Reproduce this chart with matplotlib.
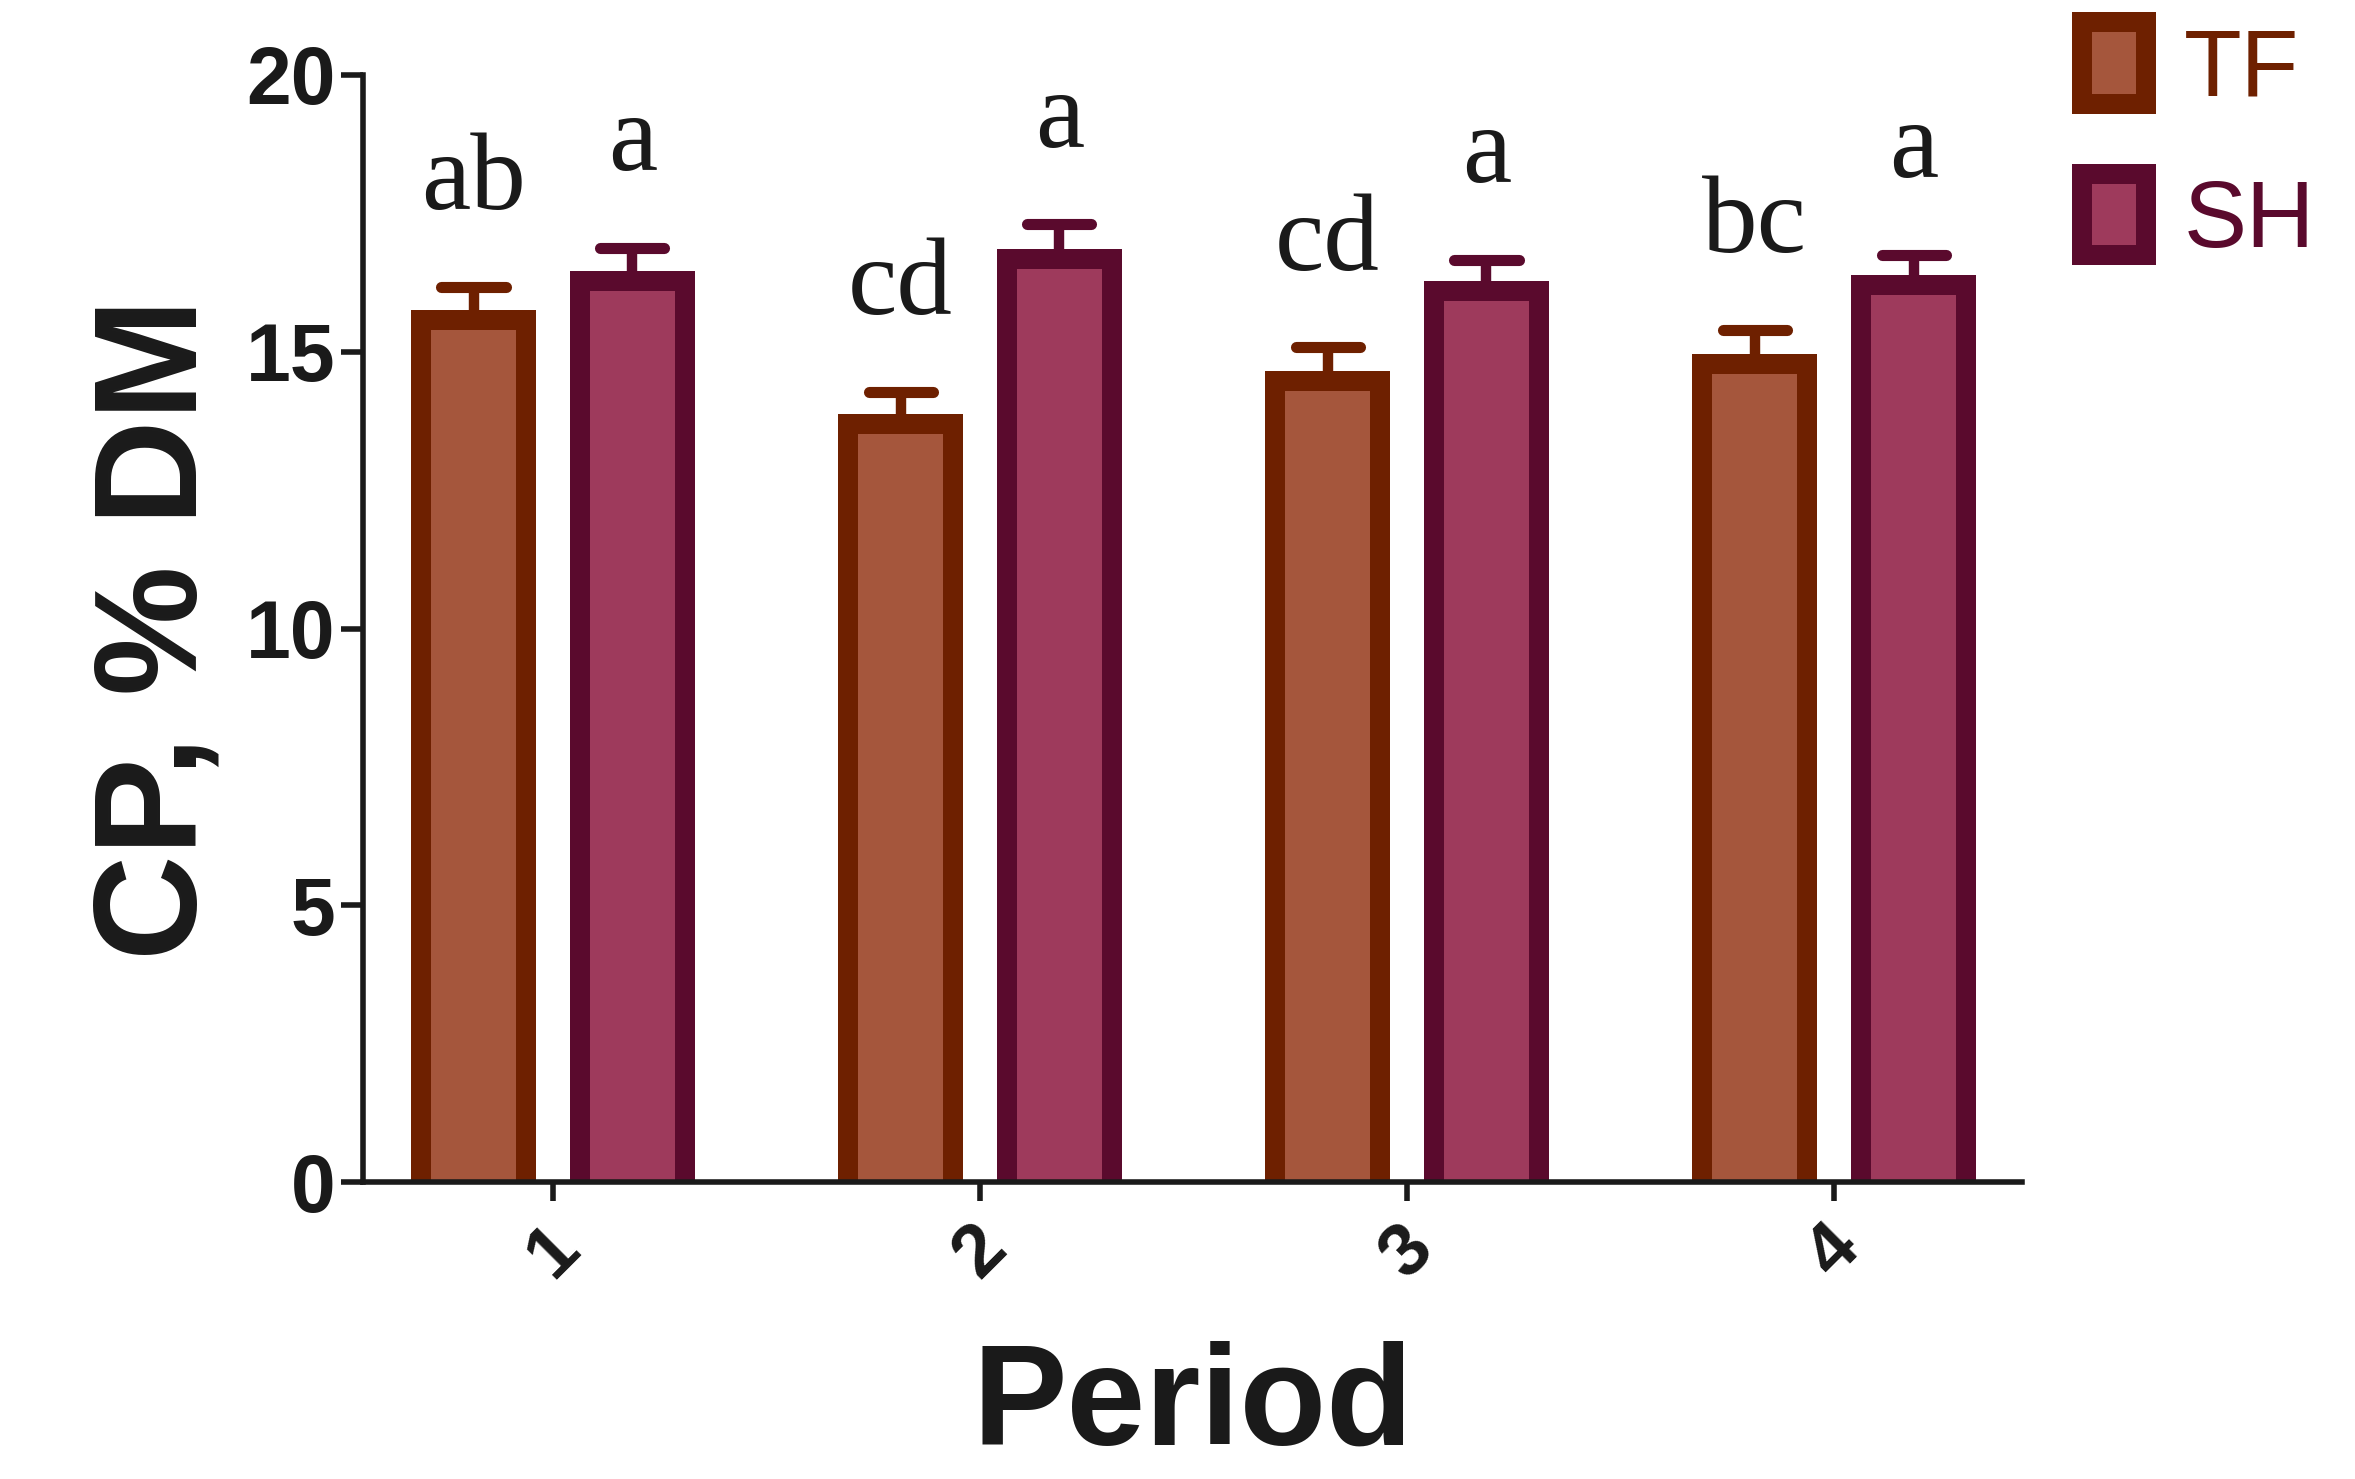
import numpy as np
import matplotlib
matplotlib.use("Agg")
import matplotlib.pyplot as plt

# data
periods = ["1", "2", "3", "4"]
tf_mean = [15.57, 13.70, 14.48, 14.78]
tf_err = [0.60, 0.57, 0.60, 0.62]
sh_mean = [16.28, 16.68, 16.09, 16.20]
sh_err = [0.60, 0.62, 0.57, 0.55]
tf_letters = ["ab", "cd", "cd", "bc"]
sh_letters = ["a", "a", "a", "a"]

TF_FILL, TF_EDGE = "#A5563C", "#6E2000"
SH_FILL, SH_EDGE = "#9E3A5C", "#5A0A2D"
INK = "#1a1a1a"

fig = plt.figure(figsize=(23.55, 14.79), dpi=100)
ax = fig.add_axes([0.1541, 0.2008, 0.8586 - 0.1541, 0.9493 - 0.2008])

x = np.arange(1, len(periods) + 1)
off = 0.186
width = 0.246
cap_half = 0.075
base = -0.3  # start bars below the axis so the bottom edge is clipped away

handles = []
for xs, mean, err, fill, edge, letters in [
    (x - off, tf_mean, tf_err, TF_FILL, TF_EDGE, tf_letters),
    (x + off, sh_mean, sh_err, SH_FILL, SH_EDGE, sh_letters),
]:
    mean = np.array(mean)
    err = np.array(err)
    bars = ax.bar(xs, mean - base, width, bottom=base, color=fill, edgecolor=edge,
                  linewidth=14.4, zorder=3)
    handles.append(bars)
    ax.vlines(xs, mean, mean + err, color=edge, linewidth=7.5, zorder=2)
    caps = ax.hlines(mean + err, xs - cap_half, xs + cap_half, color=edge,
                     linewidth=8, zorder=2)
    caps.set_capstyle("round")
    for xi, top, lab in zip(xs, mean + err, letters):
        ax.annotate(lab, (xi, top), xytext=(0, 56), textcoords="offset points",
                    ha="center", va="baseline", fontsize=80,
                    family="Liberation Serif", color=INK)

ax.set_xlim(0.555, 4.44)
ax.set_ylim(0, 20)
ax.set_yticks([0, 5, 10, 15, 20])
ax.set_xticks(x)
ax.set_xticklabels(periods, rotation=45, ha="center", va="top")

for s in ["top", "right"]:
    ax.spines[s].set_visible(False)
for s in ["left", "bottom"]:
    ax.spines[s].set_linewidth(4)
    ax.spines[s].set_color(INK)
    ax.spines[s].set_zorder(4)

ax.tick_params(axis="y", length=16, width=4, color=INK, pad=4, labelsize=58,
               labelcolor=INK)
ax.tick_params(axis="x", length=14, width=4, color=INK, pad=8, labelsize=54,
               labelcolor=INK)
for t in ax.get_xticklabels() + ax.get_yticklabels():
    t.set_family("Liberation Sans")
    t.set_fontweight("bold")

ax.set_ylabel("CP, % DM", fontsize=105, fontweight="bold", family="Liberation Sans",
              color=INK, labelpad=14)
ax.set_xlabel("Period", fontsize=102, fontweight="bold", family="Liberation Sans",
              color=INK, labelpad=36)

leg = ax.legend(handles, ["TF", "SH"], loc="upper left", bbox_to_anchor=(0.884, 0.985),
                bbox_transform=fig.transFigure, frameon=False,
                handlelength=0.68, handleheight=0.95, handletextpad=0.4,
                labelspacing=0.62, borderpad=0, borderaxespad=0,
                prop={"family": "Liberation Sans", "size": 68})
for txt, c in zip(leg.get_texts(), [TF_EDGE, SH_EDGE]):
    txt.set_color(c)

fig.savefig("out.png", dpi=100)
